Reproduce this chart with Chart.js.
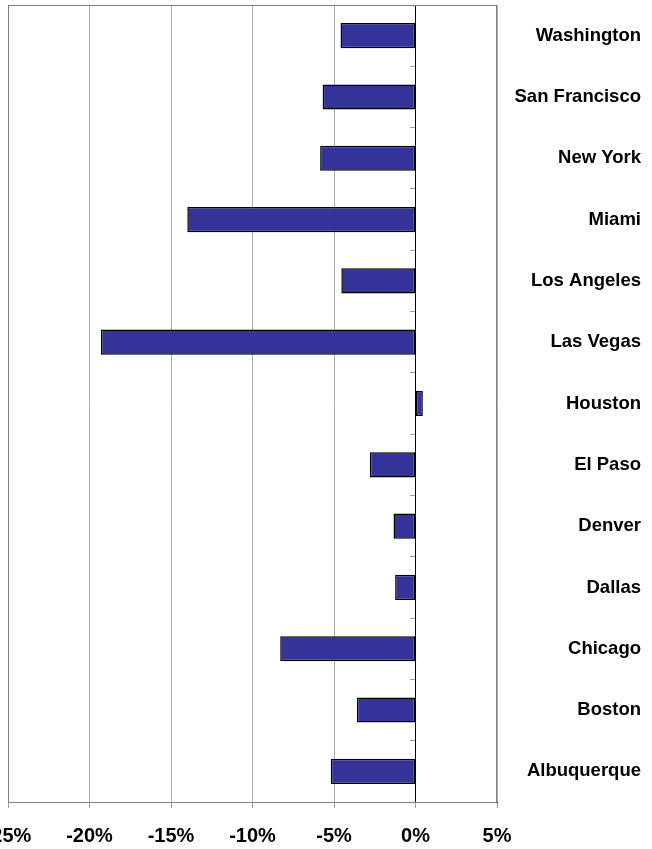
<!DOCTYPE html>
<html>
<head>
<meta charset="utf-8">
<script src="https://cdn.jsdelivr.net/npm/chart.js@4/dist/chart.umd.min.js"></script>
<style>
  html, body { margin: 0; padding: 0; background: #ffffff; overflow: hidden; }
  #wrap { width: 652px; height: 849px; position: relative; }
</style>
</head>
<body>
<div id="wrap"><canvas id="c" width="652" height="849"></canvas></div>
<script>
const cities = ['Washington', 'San Francisco', 'New York', 'Miami', 'Los Angeles', 'Las Vegas', 'Houston', 'El Paso', 'Denver', 'Dallas', 'Chicago', 'Boston', 'Albuquerque'];
const changePct = [-4.6, -5.7, -5.85, -14.0, -4.55, -19.3, 0.45, -2.8, -1.35, -1.25, -8.3, -3.6, -5.2];
const xMin = -25;
const xMax = 5;
const xStep = 5;

const FONT = '"Liberation Sans", Arial, Helvetica, sans-serif';

const framePlugin = {
  id: 'frame',
  beforeDatasetsDraw(chart) {
    const a = chart.chartArea;
    const ctx = chart.ctx;
    ctx.save();
    ctx.strokeStyle = '#808080';
    ctx.lineWidth = 1;
    ctx.strokeRect(Math.round(a.left) + 0.5, Math.round(a.top) + 0.5, Math.round(a.right - a.left) - 1, Math.round(a.bottom - a.top));
    ctx.restore();
  }
};

new Chart(document.getElementById('c'), {
  type: 'bar',
  data: {
    labels: cities,
    datasets: [{
      data: changePct,
      backgroundColor: '#333399',
      borderColor: '#000000',
      borderWidth: 1.5,
      borderSkipped: false,
      categoryPercentage: 1.0,
      barPercentage: 0.41,
      xAxisID: 'x',
      yAxisID: 'y'
    }]
  },
  options: {
    indexAxis: 'y',
    responsive: false,
    animation: false,
    layout: { padding: { top: 5, left: 8, right: 11, bottom: 0 } },
    plugins: { legend: { display: false }, tooltip: { enabled: false } },
    scales: {
      x: {
        type: 'linear',
        min: xMin,
        max: xMax,
        ticks: {
          stepSize: xStep,
          callback: v => v + '%',
          color: '#000000',
          font: { family: FONT, size: 20, weight: 'bold' },
          padding: 16,
          maxRotation: 0
        },
        grid: {
          color: ctx => (ctx.tick && ctx.tick.value === 0) ? '#000000' : '#b0b0b0',
          tickColor: '#a0a0a0',
          tickLength: 6
        },
        border: { color: '#000000', width: 1 },
        afterFit: s => { s.paddingLeft = 0; s.paddingRight = 0; s.height = 47; }
      },
      y: {
        type: 'category',
        position: { x: 0 },
        offset: true,
        ticks: { display: false },
        grid: { offset: true, drawOnChartArea: false, tickLength: 5, tickColor: '#a0a0a0' },
        border: { color: '#000000', width: 1 },
        afterFit: s => { s.paddingTop = 0; s.paddingBottom = 0; }
      },
      y2: {
        type: 'category',
        position: 'right',
        labels: cities,
        offset: true,
        ticks: {
          color: '#000000',
          font: { family: FONT, size: 18.5, weight: 'bold' },
          crossAlign: 'far',
          padding: 0
        },
        grid: { display: false },
        border: { display: false },
        afterFit: s => { s.width = 144; s.paddingTop = 0; s.paddingBottom = 0; }
      }
    }
  },
  plugins: [framePlugin]
});
</script>
</body>
</html>
